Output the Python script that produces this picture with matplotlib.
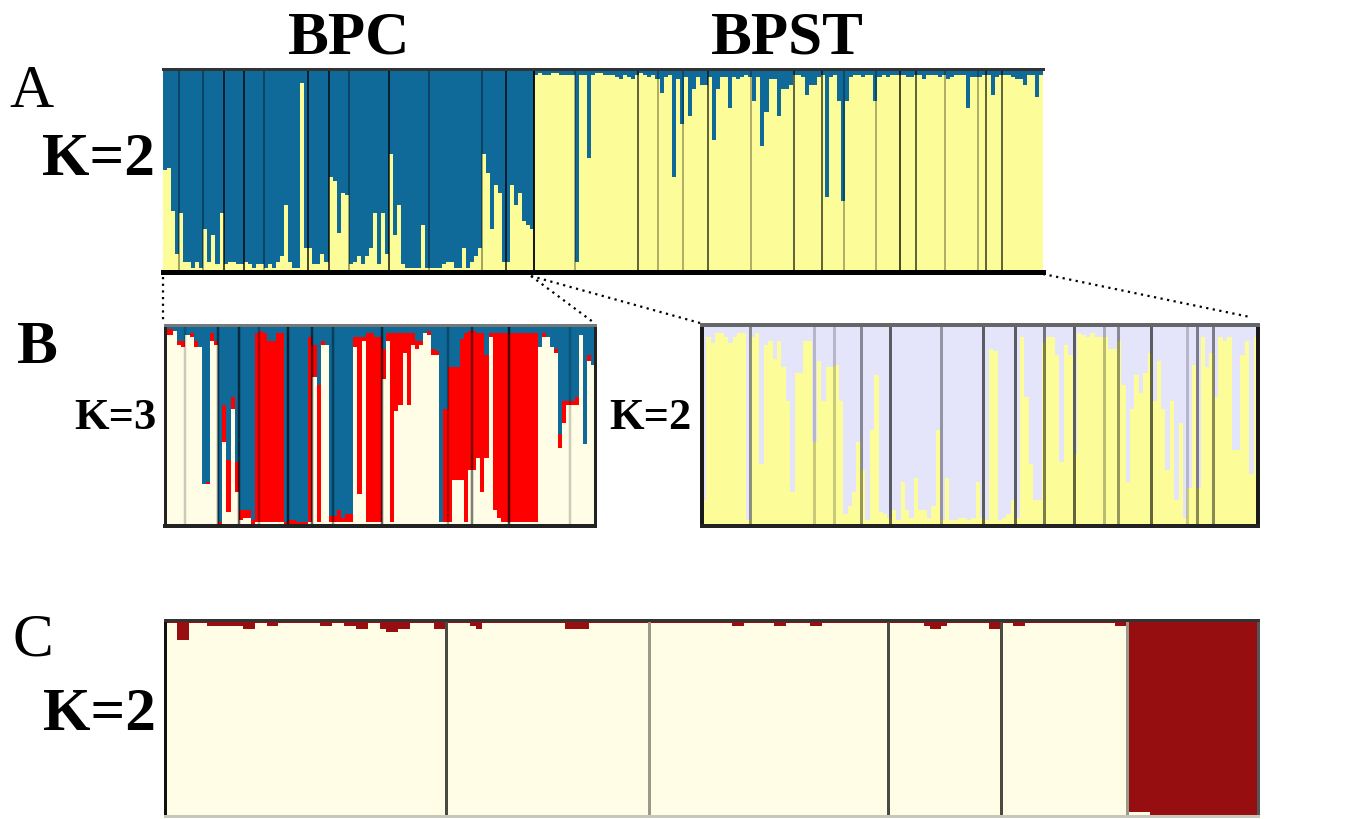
import matplotlib.pyplot as plt
import numpy as np
from matplotlib.lines import Line2D

# ---- data (ancestry fractions) ----
# panel A, K=2: BPC individuals (yellow fraction, bottom) then BPST (blue fraction, top)
bpc_yellow = [0.50, 0.51, 0.30, 0.09, 0.29, 0.05, 0.05, 0.02, 0.05, 0.02,
              0.21, 0.05, 0.18, 0.04, 0.29, 0.04, 0.05, 0.05, 0.04, 0.04,
              0.05, 0.04, 0.02, 0.04, 0.04, 0.02, 0.04, 0.02, 0.05, 0.08,
              0.33, 0.05, 0.02, 0.02, 0.93, 0.12, 0.12, 0.04, 0.04, 0.09,
              0.05, 0.47, 0.45, 0.19, 0.39, 0.38, 0.04, 0.05, 0.08, 0.04,
              0.08, 0.12, 0.29, 0.04, 0.29, 0.09, 0.58, 0.18, 0.33, 0.04,
              0.02, 0.02, 0.02, 0.02, 0.23, 0.02, 0.02, 0.02, 0.02, 0.04,
              0.05, 0.05, 0.02, 0.02, 0.12, 0.02, 0.05, 0.08, 0.12, 0.58,
              0.49, 0.21, 0.43, 0.39, 0.05, 0.05, 0.43, 0.33, 0.39, 0.25,
              0.23, 0.21]
bpst_blue = [0.03, 0.02, 0.03, 0.03, 0.02, 0.02, 0.03, 0.03, 0.03, 0.03,
             0.95, 0.03, 0.03, 0.44, 0.03, 0.02, 0.02, 0.03, 0.03, 0.03,
             0.04, 0.05, 0.03, 0.04, 0.05, 0.03, 0.02, 0.03, 0.04, 0.03,
             0.05, 0.12, 0.04, 0.03, 0.53, 0.05, 0.27, 0.04, 0.23, 0.10,
             0.04, 0.08, 0.08, 0.04, 0.35, 0.10, 0.04, 0.04, 0.19, 0.04,
             0.05, 0.04, 0.03, 0.04, 0.16, 0.04, 0.38, 0.21, 0.05, 0.05,
             0.23, 0.10, 0.10, 0.08, 0.03, 0.03, 0.04, 0.13, 0.08, 0.08,
             0.04, 0.03, 0.63, 0.04, 0.03, 0.16, 0.65, 0.16, 0.04, 0.03,
             0.03, 0.04, 0.03, 0.03, 0.16, 0.04, 0.03, 0.04, 0.03, 0.03,
             0.03, 0.03, 0.04, 0.04, 0.03, 0.03, 0.05, 0.03, 0.03, 0.03,
             0.04, 0.03, 0.05, 0.04, 0.03, 0.03, 0.03, 0.19, 0.04, 0.04,
             0.04, 0.03, 0.03, 0.13, 0.04, 0.03, 0.03, 0.03, 0.04, 0.05,
             0.05, 0.08, 0.03, 0.03, 0.14, 0.03]
a_seps = [4, 10, 15, 20, 25, 36, 41, 46, 56, 66, 79, 85, 92,
          102, 117.6, 122.6, 128.7, 135, 145.7, 156.4, 163.2, 168.7,
          176.7, 182.6, 186.6, 193.7, 202, 203.8, 207.8]
a_sep_alpha = [0.35, 0.35, 0.7, 0.7, 0.35, 0.7, 0.7, 0.35, 0.7, 0.35, 0.35, 0.7, 0.9,
               0.3, 0.6, 0.3, 0.3, 0.6, 0.3, 0.6, 0.6, 0.3,
               0.3, 0.7, 0.6, 0.3, 0.3, 0.6, 0.6]

# panel B left, K=3 (BPC): cream (bottom), red (middle), blue = rest (top)
bl_cream = [0.95, 0.95, 0.97, 0.90, 0.89, 0.95, 0.94, 0.89, 0.89, 0.21,
            0.21, 0.92, 0.90, 0.00, 0.42, 0.07, 0.58, 0.17, 0.03, 0.04,
            0.04, 0.00, 0.02, 0.02, 0.02, 0.02, 0.02, 0.02, 0.02, 0.00,
            0.00, 0.00, 0.00, 0.00, 0.00, 0.02, 0.74, 0.02, 0.90, 0.90,
            0.02, 0.02, 0.02, 0.02, 0.02, 0.02, 0.89, 0.16, 0.92, 0.02,
            0.02, 0.02, 0.02, 0.73, 0.92, 0.02, 0.57, 0.60, 0.86, 0.60,
            0.90, 0.88, 0.90, 0.96, 0.95, 0.85, 0.85, 0.02, 0.02, 0.02,
            0.23, 0.23, 0.23, 0.02, 0.28, 0.28, 0.34, 0.17, 0.34, 0.94,
            0.08, 0.04, 0.02, 0.02, 0.02, 0.02, 0.02, 0.02, 0.02, 0.02,
            0.02, 0.89, 0.94, 0.94, 0.89, 0.86, 0.39, 0.51, 0.60, 0.60,
            0.60, 0.95, 0.41, 0.82, 0.80]
bl_red = [0.03, 0.03, 0.00, 0.02, 0.03, 0.00, 0.02, 0.03, 0.00, 0.00,
          0.01, 0.04, 0.02, 0.02, 0.18, 0.26, 0.06, 0.15, 0.05, 0.04,
          0.04, 0.03, 0.94, 0.95, 0.94, 0.90, 0.90, 0.94, 0.94, 0.02,
          0.03, 0.03, 0.02, 0.02, 0.02, 0.92, 0.16, 0.68, 0.02, 0.00,
          0.03, 0.03, 0.06, 0.02, 0.04, 0.04, 0.05, 0.78, 0.02, 0.94,
          0.94, 0.92, 0.92, 0.15, 0.04, 0.94, 0.39, 0.36, 0.10, 0.36,
          0.06, 0.04, 0.02, 0.00, 0.02, 0.03, 0.02, 0.00, 0.56, 0.77,
          0.56, 0.56, 0.70, 0.94, 0.69, 0.69, 0.62, 0.79, 0.51, 0.02,
          0.88, 0.92, 0.94, 0.94, 0.94, 0.94, 0.94, 0.94, 0.94, 0.94,
          0.94, 0.00, 0.02, 0.00, 0.00, 0.02, 0.07, 0.11, 0.02, 0.02,
          0.04, 0.00, 0.00, 0.03, 0.00]
bl_seps = [5, 13, 18, 23, 30, 36, 41, 53, 69, 75, 84, 99]
bl_sep_alpha = [0.2, 0.5, 0.6, 0.3, 0.7, 0.6, 0.4, 0.6, 0.3, 0.5, 0.7, 0.2]

# panel B right, K=2 (BPST): yellow fraction (bottom), lavender = rest
br_yellow = [0.13, 0.94, 0.91, 0.96, 0.96, 0.94, 0.91, 0.94, 0.96, 0.96,
             0.03, 0.94, 0.96, 0.31, 0.90, 0.92, 0.83, 0.92, 0.79, 0.62,
             0.17, 0.76, 0.76, 0.92, 0.92, 0.42, 0.82, 0.62, 0.79, 0.79,
             0.80, 0.62, 0.06, 0.10, 0.17, 0.42, 0.28, 0.03, 0.48, 0.75,
             0.07, 0.06, 0.04, 0.08, 0.03, 0.22, 0.08, 0.04, 0.24, 0.08,
             0.08, 0.04, 0.10, 0.48, 0.03, 0.24, 0.03, 0.03, 0.04, 0.04,
             0.03, 0.04, 0.22, 0.04, 0.03, 0.88, 0.87, 0.03, 0.04, 0.06,
             0.13, 0.04, 0.94, 0.64, 0.31, 0.13, 0.13, 0.91, 0.94, 0.94,
             0.85, 0.32, 0.90, 0.85, 0.36, 0.96, 0.95, 0.94, 0.96, 0.94,
             0.94, 0.94, 0.88, 0.88, 0.92, 0.70, 0.22, 0.58, 0.75, 0.66,
             0.76, 0.86, 0.62, 0.82, 0.58, 0.28, 0.62, 0.13, 0.51, 0.04,
             0.19, 0.80, 0.19, 0.94, 0.79, 0.86, 0.64, 0.94, 0.92, 0.94,
             0.38, 0.38, 0.85, 0.92, 0.26, 0.94]
br_seps = [10.8, 25.4, 30, 36, 42.5, 54.2, 63.75, 71, 77.5, 84.4,
           91, 94.2, 101.7, 110, 112.25, 115.8]
br_sep_alpha = [0.4, 0.2, 0.2, 0.4, 0.6, 0.35, 0.6, 0.6, 0.5, 0.6,
                0.25, 0.4, 0.6, 0.2, 0.45, 0.45]

# panel C, K=2: dark red fraction (top) per population
c_pop1 = [0.015, 0.015, 0.10, 0.10, 0.015, 0.015, 0.015, 0.03, 0.03, 0.03,
          0.03, 0.03, 0.03, 0.045, 0.045, 0.015, 0.015, 0.03, 0.03, 0.015,
          0.015, 0.015, 0.015, 0.015, 0.015, 0.015, 0.03, 0.03, 0.015, 0.015,
          0.03, 0.03, 0.045, 0.045, 0.015, 0.015, 0.045, 0.06, 0.06, 0.045,
          0.045, 0.015, 0.015, 0.015, 0.015, 0.045, 0.045]
c_pop2 = [0.015, 0.015, 0.015, 0.015, 0.03, 0.045, 0.015, 0.015, 0.015, 0.015,
          0.015, 0.015, 0.015, 0.015, 0.015, 0.015, 0.015, 0.015, 0.015, 0.015,
          0.045, 0.045, 0.045, 0.045, 0.015, 0.015, 0.015, 0.015, 0.015, 0.015,
          0.015, 0.015, 0.015, 0.015]
c_pop3 = [0.015, 0.015, 0.015, 0.015, 0.015, 0.015, 0.015, 0.015, 0.015, 0.015,
          0.015, 0.015, 0.015, 0.015, 0.03, 0.03, 0.015, 0.015, 0.015, 0.015,
          0.015, 0.03, 0.03, 0.015, 0.015, 0.015, 0.015, 0.03, 0.03, 0.015,
          0.015, 0.015, 0.015, 0.015, 0.015, 0.015, 0.015, 0.015, 0.015, 0.015]
c_pop4 = [0.015, 0.015, 0.015, 0.015, 0.015, 0.015, 0.03, 0.045, 0.045, 0.03,
          0.015, 0.015, 0.015, 0.015, 0.015, 0.015, 0.015, 0.045, 0.045]
c_pop5 = [0.015, 0.015, 0.03, 0.03, 0.015, 0.015, 0.015, 0.015, 0.015, 0.015,
          0.015, 0.015, 0.015, 0.015, 0.015, 0.015, 0.015, 0.015, 0.015, 0.03,
          0.03]
c_pop6 = [0.98, 0.98, 0.98, 0.98, 1.0, 1.0, 1.0, 1.0, 1.0, 1.0,
          1.0, 1.0, 1.0, 1.0, 1.0, 1.0, 1.0, 1.0, 1.0, 1.0,
          1.0, 1.0]
c_sep_colors = ['#4a4a44', '#9a9a8c', '#4a4a44', '#4a4a44', '#9a9a8c']

BLUE = '#0f6a99'
YELLOW = '#fcfc98'
CREAM = '#fffde6'
RED = '#ff0000'
LAVENDER = '#e4e4fa'
DKRED = '#970e10'

W, H = 1365, 819
PX = 72 / 100  # points per pixel


def box(x0, y0, x1, y1):
    return [x0 / W, 1 - y1 / H, (x1 - x0) / W, (y1 - y0) / H]


def stack(ax, layers, colors):
    n = len(layers[0])
    x = np.arange(n)
    bottom = np.zeros(n)
    for vals, col in zip(layers, colors):
        vals = np.asarray(vals)
        ax.bar(x, vals, width=1.0, bottom=bottom, align='edge', color=col,
               linewidth=0, antialiased=False)
        bottom = bottom + vals
    ax.set_xlim(0, n)
    ax.set_ylim(0, 1)
    ax.set_xticks([])
    ax.set_yticks([])


def spines(ax, top, bottom, left, right):
    for name, spec in zip(['top', 'bottom', 'left', 'right'], [top, bottom, left, right]):
        if spec is None:
            ax.spines[name].set_visible(False)
        else:
            ax.spines[name].set_color(spec[0])
            ax.spines[name].set_linewidth(spec[1] * PX)


fig = plt.figure(figsize=(13.65, 8.19), dpi=100)

# panel A
axA = fig.add_axes(box(163, 69, 1043, 272))
yA = np.array(bpc_yellow + [1 - b for b in bpst_blue])
stack(axA, [yA, 1 - yA], [YELLOW, BLUE])
for s, a in zip(a_seps, a_sep_alpha):
    axA.axvline(s, color='black', alpha=a, lw=2 * PX)
spines(axA, ('#333333', 3), ('black', 5), None, None)

# panel B left
axBL = fig.add_axes(box(165, 325, 595, 526))
bl_blue = 1 - np.array(bl_cream) - np.array(bl_red)
stack(axBL, [bl_cream, bl_red, bl_blue], [CREAM, RED, BLUE])
for s, a in zip(bl_seps, bl_sep_alpha):
    axBL.axvline(s, color='black', alpha=a, lw=2.5 * PX)
spines(axBL, ('#777777', 3), ('#222222', 4), ('#222222', 3), ('#222222', 3))

# panel B right
axBR = fig.add_axes(box(702, 325, 1258, 526))
stack(axBR, [br_yellow, 1 - np.array(br_yellow)], [YELLOW, LAVENDER])
for s, a in zip(br_seps, br_sep_alpha):
    axBR.axvline(s, color='black', alpha=a, lw=3 * PX)
spines(axBR, ('#666666', 4), ('#222222', 4), ('#1a1a1a', 4), ('#1a1a1a', 4))

# panel C
axC = fig.add_axes(box(165, 620, 1258, 816))
c_red = np.array(c_pop1 + c_pop2 + c_pop3 + c_pop4 + c_pop5 + c_pop6)
stack(axC, [1 - c_red, c_red], [CREAM, DKRED])
edge = 0
for pop, col in zip([c_pop1, c_pop2, c_pop3, c_pop4, c_pop5], c_sep_colors):
    edge += len(pop)
    axC.axvline(edge, color=col, lw=3 * PX)
spines(axC, ('#333333', 3), ('#c8c8b8', 3), ('#111111', 3), ('#555555', 3))

# dotted connectors from A to B
dots = dict(color='black', lw=1.6, ls=(0, (1, 2)), transform=fig.transFigure)
for (x0, y0), (x1, y1) in [((163, 277), (163, 321)), ((531, 276), (593, 322)),
                           ((531, 276), (700, 323)), ((1043, 274), (1250, 317))]:
    fig.add_artist(Line2D([x0 / W, x1 / W], [1 - y0 / H, 1 - y1 / H], **dots))

# labels
serif = 'Liberation Serif'


def label(x, y, s, size, weight='bold'):
    fig.text(x / W, 1 - y / H, s, fontsize=size, fontweight=weight, family=serif,
             ha='center', va='center')


label(349, 38, 'BPC', 44)
label(787, 38, 'BPST', 44)
label(32, 92, 'A', 44, 'normal')
label(98, 160, 'K=2', 44)
label(37, 348, 'B', 44)
label(115, 418, 'K=3', 32)
label(650, 418, 'K=2', 32)
label(33, 641, 'C', 44, 'normal')
label(99, 715, 'K=2', 44)

fig.savefig('out.png', dpi=100)
